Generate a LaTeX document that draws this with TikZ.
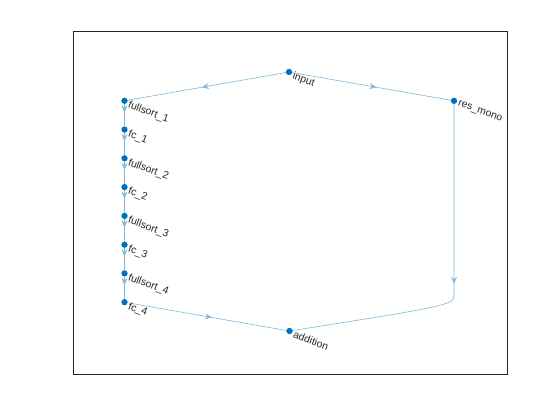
\documentclass[tikz,border=0pt]{standalone}
\usepackage{fontspec}
\setmainfont{Liberation Sans}
\usetikzlibrary{arrows.meta,decorations.markings,calc}
\definecolor{edgeblue}{RGB}{128,184,222}
\definecolor{nodeblue}{RGB}{0,114,189}
\definecolor{axgray}{RGB}{38,38,38}
\tikzset{
  gnode/.style={circle,fill=nodeblue,inner sep=0pt,minimum size=6pt},
  glabel/.style={anchor=north west,rotate=-20,inner sep=0pt,text=axgray,font=\fontsize{10.4}{12}\selectfont},
  gedge/.style={draw=edgeblue,line width=0.6pt,postaction={decorate},
    decoration={markings,mark=at position #1 with {\arrow{Stealth[length=7pt,width=6pt,inset=2.5pt]}}}},
  gedge/.default=0.53
}
\begin{document}
\begin{tikzpicture}[x=1pt,y=-1pt]
\useasboundingbox (0,0) rectangle (560,420);
\fill[white] (0,0) rectangle (560,420);
\draw[axgray,line width=0.6pt] (73,31.5) rectangle (507,373.8);
% nodes
\node[gnode] (input) at (289,72) {};
\node[gnode] (fs1) at (124.5,100.8) {};
\node[gnode] (res) at (454,100.8) {};
\node[gnode] (fc1) at (124.5,129.6) {};
\node[gnode] (fs2) at (124.5,158.3) {};
\node[gnode] (fc2) at (124.5,187.1) {};
\node[gnode] (fs3) at (124.5,215.9) {};
\node[gnode] (fc3) at (124.5,244.7) {};
\node[gnode] (fs4) at (124.5,273.4) {};
\node[gnode] (fc4) at (124.5,302.2) {};
\node[gnode] (add) at (289.5,331) {};
\coordinate (bend) at (454,296);
% edges
\draw[gedge] (input.center) -- (fs1.center);
\draw[gedge] (input.center) -- (res.center);
\draw[gedge=0.4] (fs1.center) -- (fc1.center);
\draw[gedge=0.4] (fc1.center) -- (fs2.center);
\draw[gedge=0.4] (fs2.center) -- (fc2.center);
\draw[gedge=0.4] (fc2.center) -- (fs3.center);
\draw[gedge=0.4] (fs3.center) -- (fc3.center);
\draw[gedge=0.4] (fc3.center) -- (fs4.center);
\draw[gedge=0.4] (fs4.center) -- (fc4.center);
\draw[gedge] (fc4.center) -- (add.center);
\draw[gedge=0.5] (res.center) -- (bend) .. controls (454,305) and (442,307) .. (add.center);
% redraw dots on top
\foreach \n in {input,fs1,res,fc1,fs2,fc2,fs3,fc3,fs4,fc4,add}{
  \fill[nodeblue] (\n.center) circle (3pt);
}
% labels
\node[glabel] (l-input) at ($(input.center)+(5.5,-0.5)$) {input};
\node[glabel] (l-fs1) at ($(fs1.center)+(5.5,-0.5)$) {fullsort\_1};
\node[glabel] (l-res) at ($(res.center)+(5.5,-0.5)$) {res\_mono};
\node[glabel] (l-fc1) at ($(fc1.center)+(5.5,-0.5)$) {fc\_1};
\node[glabel] (l-fs2) at ($(fs2.center)+(5.5,-0.5)$) {fullsort\_2};
\node[glabel] (l-fc2) at ($(fc2.center)+(5.5,-0.5)$) {fc\_2};
\node[glabel] (l-fs3) at ($(fs3.center)+(5.5,-0.5)$) {fullsort\_3};
\node[glabel] (l-fc3) at ($(fc3.center)+(5.5,-0.5)$) {fc\_3};
\node[glabel] (l-fs4) at ($(fs4.center)+(5.5,-0.5)$) {fullsort\_4};
\node[glabel] (l-fc4) at ($(fc4.center)+(5.5,-0.5)$) {fc\_4};
\node[glabel] (l-add) at ($(add.center)+(5.5,-0.5)$) {addition};
\end{tikzpicture}
\end{document}
